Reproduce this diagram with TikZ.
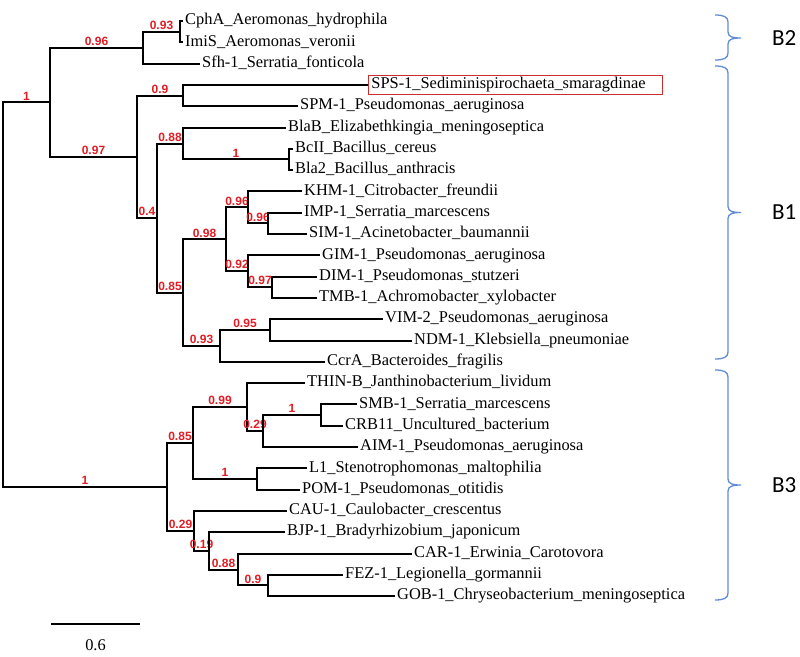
\documentclass[tikz,border=0pt]{standalone}
\usepackage{fontspec}
\setmainfont{Liberation Serif}
\newfontfamily\supportfont{Liberation Sans}
\newfontfamily\cladefont{Carlito}
\definecolor{supportred}{RGB}{228,28,36}
\definecolor{boxred}{RGB}{205,45,45}
\definecolor{cladeblue}{RGB}{98,140,210}

% right brace of a clade: top, tip, bottom
\newcommand{\cladebrace}[3]{%
  \draw[clade] (715,#1) .. controls (724,#1) and (728,#1+2) .. (728,#1+7)
    -- (728,#2-6) .. controls (728,#2-1) and (733,#2) .. (741,#2)
    .. controls (733,#2) and (728,#2+1) .. (728,#2+6)
    -- (728,#3-7) .. controls (728,#3-2) and (724,#3) .. (715,#3);}

\begin{document}
\begin{tikzpicture}[x=1pt, y=-1pt,
  branch/.style={line width=2pt},
  leaf/.style={anchor=west, inner sep=2pt, text height=11pt, text depth=3.5pt, font=\fontsize{16.4}{18}\selectfont},
  support/.style={above, pos=0.75, inner sep=1.2pt, text=supportred, font=\supportfont\bfseries\fontsize{12}{12}\selectfont},
  clade/.style={draw=cladeblue, line width=1.3pt},
  cladename/.style={anchor=west, inner sep=0pt, font=\cladefont\fontsize{23}{23}\selectfont}]

\useasboundingbox (0,0) rectangle (800,656);

% internal nodes
\coordinate (root) at (3,294.6);
\coordinate (nUp) at (50,102.2);
\coordinate (nB2) at (143,47.6);
\coordinate (nCI) at (180,31.65);
\coordinate (nB1) at (137,156.8);
\coordinate (nSP) at (183,95.55);
\coordinate (nMBL) at (157,218.0);
\coordinate (nBla) at (183,143.5);
\coordinate (nBc) at (289,159.45);
\coordinate (nSub) at (183,292.6);
\coordinate (nIG) at (226,239.35);
\coordinate (nKI) at (248,207.4);
\coordinate (nIS) at (268,223.35);
\coordinate (nGD) at (248,271.3);
\coordinate (nDT) at (272,287.25);
\coordinate (nVC) at (220,345.8);
\coordinate (nVN) at (270,329.85);
\coordinate (nB3) at (167,486.95);
\coordinate (nTA) at (193,443.0);
\coordinate (nTh) at (247,407.05);
\coordinate (nSA) at (263,431.0);
\coordinate (nSC) at (321,415.05);
\coordinate (nLP) at (257,478.95);
\coordinate (nCG) at (194,530.9);
\coordinate (nBG) at (209,550.85);
\coordinate (nCF) at (238,569.5);
\coordinate (nFG) at (268,585.45);

% leaves
\node[leaf] (cphA) at (183,21.0) {CphA\_Aeromonas\_hydrophila};
\node[leaf] (imiS) at (183,42.3) {ImiS\_Aeromonas\_veronii};
\node[leaf] (sfh) at (200,63.6) {Sfh-1\_Serratia\_fonticola};
\node[leaf, draw=boxred, line width=0.8pt, text width=288pt, align=left, inner xsep=3pt, inner ysep=2.25pt] (sps) at (368,84.9) {SPS-1\_Sediminispirochaeta\_smaragdinae};
\node[leaf] (spm) at (298,106.2) {SPM-1\_Pseudomonas\_aeruginosa};
\node[leaf] (blaB) at (286,127.5) {BlaB\_Elizabethkingia\_meningoseptica};
\node[leaf] (bcII) at (293,148.8) {BcII\_Bacillus\_cereus};
\node[leaf] (bla2) at (293,170.1) {Bla2\_Bacillus\_anthracis};
\node[leaf] (khm) at (302,191.4) {KHM-1\_Citrobacter\_freundii};
\node[leaf] (imp) at (302,212.7) {IMP-1\_Serratia\_marcescens};
\node[leaf] (sim) at (307,234.0) {SIM-1\_Acinetobacter\_baumannii};
\node[leaf] (gim) at (320,255.3) {GIM-1\_Pseudomonas\_aeruginosa};
\node[leaf] (dim) at (317,276.6) {DIM-1\_Pseudomonas\_stutzeri};
\node[leaf] (tmb) at (317,297.9) {TMB-1\_Achromobacter\_xylobacter};
\node[leaf] (vim) at (383,319.2) {VIM-2\_Pseudomonas\_aeruginosa};
\node[leaf] (ndm) at (412,340.5) {NDM-1\_Klebsiella\_pneumoniae};
\node[leaf] (ccrA) at (325,361.8) {CcrA\_Bacteroides\_fragilis};
\node[leaf] (thin) at (305,383.1) {THIN-B\_Janthinobacterium\_lividum};
\node[leaf] (smb) at (357,404.4) {SMB-1\_Serratia\_marcescens};
\node[leaf] (crb) at (343,425.7) {CRB11\_Uncultured\_bacterium};
\node[leaf] (aim) at (358,447.0) {AIM-1\_Pseudomonas\_aeruginosa};
\node[leaf] (lone) at (307,468.3) {L1\_Stenotrophomonas\_maltophilia};
\node[leaf] (pom) at (300,489.6) {POM-1\_Pseudomonas\_otitidis};
\node[leaf] (cau) at (287,510.9) {CAU-1\_Caulobacter\_crescentus};
\node[leaf] (bjp) at (285,532.2) {BJP-1\_Bradyrhizobium\_japonicum};
\node[leaf] (car) at (412,553.5) {CAR-1\_Erwinia\_Carotovora};
\node[leaf] (fez) at (343,574.8) {FEZ-1\_Legionella\_gormannii};
\node[leaf] (gob) at (395,596.1) {GOB-1\_Chryseobacterium\_meningoseptica};

% B2 and B1
\draw[branch] (root) |- node[support] {1} (nUp);
\draw[branch] (nUp) |- node[support] {0.96} (nB2);
\draw[branch] (nB2) |- node[support] {0.93} (nCI) (nB2) |- (sfh.west);
\draw[branch] (nCI) |- (cphA.west) (nCI) |- (imiS.west);
\draw[branch] (nUp) |- node[support] {0.97} (nB1);
\draw[branch] (nB1) |- node[support] {0.9} (nSP);
\draw[branch] (nSP) |- (sps.west) (nSP) |- (spm.west);
\draw[branch] (nB1) |- node[support] {0.4} (nMBL);
\draw[branch] (nMBL) |- node[support] {0.88} (nBla);
\draw[branch] (nBla) |- (blaB.west);
\draw[branch] (nBla) |- node[support] {1} (nBc);
\draw[branch] (nBc) |- (bcII.west) (nBc) |- (bla2.west);
\draw[branch] (nMBL) |- node[support] {0.85} (nSub);
\draw[branch] (nSub) |- node[support] {0.98} (nIG);
\draw[branch] (nIG) |- node[support] {0.96} (nKI);
\draw[branch] (nKI) |- (khm.west);
\draw[branch] (nKI) |- node[support] {0.96} (nIS);
\draw[branch] (nIS) |- (imp.west) (nIS) |- (sim.west);
\draw[branch] (nIG) |- node[support] {0.92} (nGD);
\draw[branch] (nGD) |- (gim.west);
\draw[branch] (nGD) |- node[support] {0.97} (nDT);
\draw[branch] (nDT) |- (dim.west) (nDT) |- (tmb.west);
\draw[branch] (nSub) |- node[support] {0.93} (nVC);
\draw[branch] (nVC) |- node[support] {0.95} (nVN);
\draw[branch] (nVN) |- (vim.west) (nVN) |- (ndm.west);
\draw[branch] (nVC) |- (ccrA.west);

% B3
\draw[branch] (root) |- node[support] {1} (nB3);
\draw[branch] (nB3) |- node[support] {0.85} (nTA);
\draw[branch] (nTA) |- node[support] {0.99} (nTh);
\draw[branch] (nTh) |- (thin.west);
\draw[branch] (nTh) |- node[support] {0.29} (nSA);
\draw[branch] (nSA) |- node[support] {1} (nSC);
\draw[branch] (nSC) |- (smb.west) (nSC) |- (crb.west);
\draw[branch] (nSA) |- (aim.west);
\draw[branch] (nTA) |- node[support] {1} (nLP);
\draw[branch] (nLP) |- (lone.west) (nLP) |- (pom.west);
\draw[branch] (nB3) |- node[support] {0.29} (nCG);
\draw[branch] (nCG) |- (cau.west);
\draw[branch] (nCG) |- node[support] {0.19} (nBG);
\draw[branch] (nBG) |- (bjp.west);
\draw[branch] (nBG) |- node[support] {0.88} (nCF);
\draw[branch] (nCF) |- (car.west);
\draw[branch] (nCF) |- node[support] {0.9} (nFG);
\draw[branch] (nFG) |- (fez.west) (nFG) |- (gob.west);

% scale bar
\coordinate (barL) at (51,624);
\coordinate (barR) at (140,624);
\draw[branch] (barL) -- node[below=15pt, inner sep=0pt, font=\fontsize{16.4}{18}\selectfont] (barlabel) {0.6} (barR);

% clades
\cladebrace{15}{38}{60}
\cladebrace{66}{212.5}{359}
\cladebrace{370}{485}{600}
\node[cladename] (B2) at (772,38) {B2};
\node[cladename] (B1) at (772,212.5) {B1};
\node[cladename] (B3) at (772,485) {B3};

\end{tikzpicture}
\end{document}
